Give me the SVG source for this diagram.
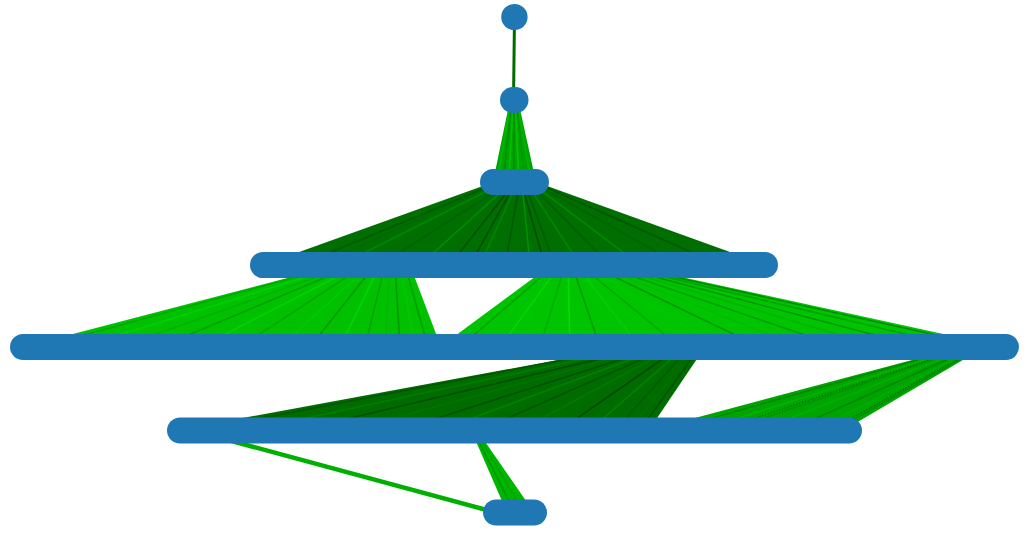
<svg xmlns="http://www.w3.org/2000/svg" width="1027" height="534" viewBox="0 0 1027 534">
<style>
.node{stroke:#1f77b4;stroke-width:26;stroke-linecap:round;fill:none}
.e{fill:none;stroke-width:1.6}
.bundle polygon{stroke:none}
</style>
<rect x="0" y="0" width="1027" height="534" fill="#ffffff"/>
<g id="connectors">
  <line id="e-n1-n2" x1="514.5" y1="17" x2="513.5" y2="100" stroke="#006c00" stroke-width="3"/>
  <g id="e-n2-n3" class="bundle">
    <polygon points="510,100 518,100 536,182 493,182" fill="#00a400"/>
    <line class="e" x1="511" y1="100" x2="497" y2="182" stroke="#00b800"/>
    <line class="e" x1="512" y1="100" x2="503" y2="182" stroke="#009000"/>
    <line class="e" x1="513" y1="100" x2="509" y2="182" stroke="#00c000"/>
    <line class="e" x1="514" y1="100" x2="514" y2="182" stroke="#008c00"/>
    <line class="e" x1="515" y1="100" x2="519" y2="182" stroke="#00c400"/>
    <line class="e" x1="516" y1="100" x2="525" y2="182" stroke="#009800"/>
    <line class="e" x1="517" y1="100" x2="531" y2="182" stroke="#00b400"/>
  </g>
  <g id="e-n3-n4" class="bundle">
    <polygon points="494,182 536,182 766,265 263,265" fill="#006e00"/>
    <line class="e" x1="498" y1="182" x2="320" y2="265" stroke="#006c00"/>
    <line class="e" x1="500" y1="182" x2="300" y2="265" stroke="#005c00"/>
    <line class="e" x1="505" y1="182" x2="340" y2="265" stroke="#008800"/>
    <line class="e" x1="510" y1="182" x2="380" y2="265" stroke="#006400"/>
    <line class="e" x1="512" y1="182" x2="420" y2="265" stroke="#008c00"/>
    <line class="e" x1="515" y1="182" x2="450" y2="265" stroke="#005000"/>
    <line class="e" x1="516" y1="182" x2="470" y2="265" stroke="#004e00"/>
    <line class="e" x1="518" y1="182" x2="480" y2="265" stroke="#008400"/>
    <line class="e" x1="520" y1="182" x2="505" y2="265" stroke="#005a00"/>
    <line class="e" x1="521" y1="182" x2="545" y2="265" stroke="#004c00"/>
    <line class="e" x1="522" y1="182" x2="530" y2="265" stroke="#009000"/>
    <line class="e" x1="524" y1="182" x2="555" y2="265" stroke="#005c00"/>
    <line class="e" x1="526" y1="182" x2="580" y2="265" stroke="#008600"/>
    <line class="e" x1="528" y1="182" x2="610" y2="265" stroke="#006000"/>
    <line class="e" x1="530" y1="182" x2="640" y2="265" stroke="#008800"/>
    <line class="e" x1="532" y1="182" x2="680" y2="265" stroke="#006400"/>
    <line class="e" x1="534" y1="182" x2="720" y2="265" stroke="#005800"/>
  </g>
  <g id="e-n4-n5-left" class="bundle">
    <polygon points="337,265 410,265 441,347 23,347" fill="#00c000"/>
    <line class="e" x1="340" y1="265" x2="40" y2="347" stroke="#00a800"/>
    <line class="e" x1="345" y1="265" x2="80" y2="347" stroke="#00d000"/>
    <line class="e" x1="350" y1="265" x2="120" y2="347" stroke="#00b000"/>
    <line class="e" x1="355" y1="265" x2="160" y2="347" stroke="#00a000"/>
    <line class="e" x1="360" y1="265" x2="200" y2="347" stroke="#00d400"/>
    <line class="e" x1="365" y1="265" x2="240" y2="347" stroke="#00a800"/>
    <line class="e" x1="370" y1="265" x2="280" y2="347" stroke="#00cc00"/>
    <line class="e" x1="375" y1="265" x2="310" y2="347" stroke="#009c00"/>
    <line class="e" x1="380" y1="265" x2="340" y2="347" stroke="#00d800"/>
    <line class="e" x1="385" y1="265" x2="365" y2="347" stroke="#00a400"/>
    <line class="e" x1="390" y1="265" x2="385" y2="347" stroke="#00b800"/>
    <line class="e" x1="395" y1="265" x2="400" y2="347" stroke="#009800"/>
    <line class="e" x1="400" y1="265" x2="415" y2="347" stroke="#00c800"/>
    <line class="e" x1="405" y1="265" x2="428" y2="347" stroke="#00a000"/>
  </g>
  <g id="e-n4-n5-right" class="bundle">
    <polygon points="551,265 626,265 1003,347 440,347" fill="#00c400"/>
    <line class="e" x1="555" y1="265" x2="460" y2="347" stroke="#00a400"/>
    <line class="e" x1="560" y1="265" x2="500" y2="347" stroke="#00d800"/>
    <line class="e" x1="565" y1="265" x2="540" y2="347" stroke="#00ac00"/>
    <line class="e" x1="568" y1="265" x2="570" y2="347" stroke="#00e000"/>
    <line class="e" x1="572" y1="265" x2="600" y2="347" stroke="#009c00"/>
    <line class="e" x1="576" y1="265" x2="640" y2="347" stroke="#00d000"/>
    <line class="e" x1="580" y1="265" x2="680" y2="347" stroke="#00a800"/>
    <line class="e" x1="585" y1="265" x2="720" y2="347" stroke="#00c800"/>
    <line class="e" x1="590" y1="265" x2="760" y2="347" stroke="#009800"/>
    <line class="e" x1="595" y1="265" x2="800" y2="347" stroke="#00bc00"/>
    <line class="e" x1="600" y1="265" x2="840" y2="347" stroke="#00a000"/>
    <line class="e" x1="605" y1="265" x2="880" y2="347" stroke="#00b400"/>
    <line class="e" x1="610" y1="265" x2="920" y2="347" stroke="#009400"/>
    <line class="e" x1="615" y1="265" x2="960" y2="347" stroke="#00a400"/>
    <line class="e" x1="620" y1="265" x2="990" y2="347" stroke="#008c00"/>
  </g>
  <g id="e-n5-n6-left" class="bundle">
    <polygon points="628,347 705,347 649,430 178,430" fill="#006c00"/>
    <line class="e" x1="630" y1="347" x2="200" y2="430" stroke="#005800"/>
    <line class="e" x1="640" y1="347" x2="250" y2="430" stroke="#007c00"/>
    <line class="e" x1="650" y1="347" x2="300" y2="430" stroke="#004c00"/>
    <line class="e" x1="655" y1="347" x2="350" y2="430" stroke="#007400"/>
    <line class="e" x1="660" y1="347" x2="400" y2="430" stroke="#005000"/>
    <line class="e" x1="665" y1="347" x2="440" y2="430" stroke="#008000"/>
    <line class="e" x1="670" y1="347" x2="480" y2="430" stroke="#005400"/>
    <line class="e" x1="675" y1="347" x2="520" y2="430" stroke="#007800"/>
    <line class="e" x1="680" y1="347" x2="560" y2="430" stroke="#004a00"/>
    <line class="e" x1="685" y1="347" x2="590" y2="430" stroke="#008400"/>
    <line class="e" x1="690" y1="347" x2="615" y2="430" stroke="#005c00"/>
    <line class="e" x1="695" y1="347" x2="630" y2="430" stroke="#007000"/>
    <line class="e" x1="700" y1="347" x2="640" y2="430" stroke="#005200"/>
  </g>
  <g id="e-n5-n6-right" class="bundle">
    <polygon points="961,347 985,347 844,430 650,430" fill="#00a400"/>
    <line class="e" x1="963" y1="347" x2="670" y2="430" stroke="#008c00"/>
    <line class="e" x1="966" y1="347" x2="700" y2="430" stroke="#00b400"/>
    <line class="e" x1="969" y1="347" x2="730" y2="430" stroke="#009400"/>
    <line class="e" x1="972" y1="347" x2="760" y2="430" stroke="#00b000"/>
    <line class="e" x1="975" y1="347" x2="790" y2="430" stroke="#008800"/>
    <line class="e" x1="978" y1="347" x2="815" y2="430" stroke="#00ac00"/>
    <line class="e" x1="982" y1="347" x2="835" y2="430" stroke="#009000"/>
    <line x1="968" y1="347" x2="720" y2="430" stroke="#002800" stroke-width="0.7" stroke-dasharray="1 2"/>
    <line x1="980" y1="347" x2="830" y2="430" stroke="#002000" stroke-width="0.7" stroke-dasharray="1 2"/>
  </g>
  <g id="e-n6-n7" class="bundle">
    <polygon points="471,430 477,430 534,512.5 507,512.5" fill="#00b400"/>
    <line class="e" x1="473" y1="430" x2="515" y2="512.5" stroke="#009a00"/>
    <line class="e" x1="475" y1="430" x2="524" y2="512.5" stroke="#00a800"/>
    <line x1="191" y1="430" x2="496" y2="512.5" stroke="#00b000" stroke-width="4.5"/>
  </g>
</g>
<g id="nodes">
  <g id="n1"><line class="node" x1="514.2" y1="17" x2="514.6" y2="17"/></g>
  <g id="n2"><line class="node" x1="513" y1="100" x2="515.5" y2="100"/></g>
  <g id="n3"><line class="node" x1="493" y1="182" x2="536" y2="182"/></g>
  <g id="n4"><line class="node" x1="263" y1="265" x2="765" y2="265"/></g>
  <g id="n5"><line class="node" x1="23" y1="347" x2="1006" y2="347"/></g>
  <g id="n6"><line class="node" x1="180" y1="430.5" x2="849" y2="430.5"/></g>
  <g id="n7"><line class="node" x1="496" y1="512.5" x2="534" y2="512.5"/></g>
</g>
</svg>
